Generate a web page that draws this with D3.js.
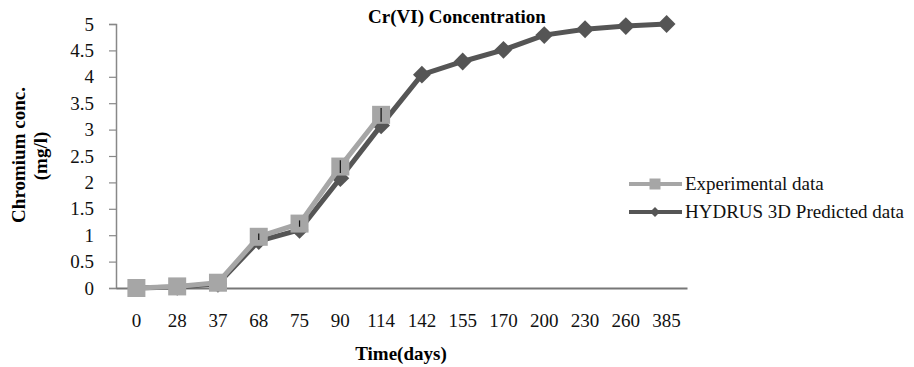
<!DOCTYPE html>
<html>
<head>
<meta charset="utf-8">
<script src="https://d3js.org/d3.v7.min.js"></script>
<style>
  body { margin: 0; background: #fff; }
  text { font-family: "Liberation Serif", "Times New Roman", serif; }
</style>
</head>
<body>
<div id="chart"></div>
<script>
// data
var days = ["0", "28", "37", "68", "75", "90", "114", "142", "155", "170", "200", "230", "260", "385"];
var experimental = [0, 0.03, 0.1, 0.97, 1.22, 2.3, 3.28];
var expError = [0, 0, 0, 0.06, 0.06, 0.12, 0.13];
var predicted = [0, 0.02, 0.08, 0.89, 1.1, 2.08, 3.08, 4.04, 4.29, 4.51, 4.79, 4.9, 4.96, 5.0];
var yTicks = [0, 0.5, 1, 1.5, 2, 2.5, 3, 3.5, 4, 4.5, 5];
var seriesNames = ["Experimental data", "HYDRUS 3D Predicted data"];

var width = 914, height = 367;
var svg = d3.select("#chart").append("svg")
  .attr("width", width)
  .attr("height", height);

var x = d3.scaleBand().domain(days).range([116, 687]);
var y = d3.scaleLinear().domain([0, 5]).range([288, 24]);
var cx = function(i) { return x(days[i]) + x.bandwidth() / 2; };

// y axis
var yAxis = svg.append("g")
  .attr("transform", "translate(116,0)")
  .call(d3.axisLeft(y).tickValues(yTicks).tickSize(7).tickPadding(15).tickFormat(d3.format("")));
yAxis.select(".domain").attr("stroke", "#888").attr("stroke-width", 1.5);
yAxis.selectAll(".tick line").attr("stroke", "#888").attr("stroke-width", 1.2);
yAxis.selectAll("text").attr("font-size", "19px").attr("fill", "#111")
  .style("font-family", "'Liberation Serif', serif");

// x axis
var xAxis = svg.append("g")
  .attr("transform", "translate(0,288)")
  .call(d3.axisBottom(x).tickSize(0).tickPadding(26));
xAxis.select(".domain").attr("stroke", "#777").attr("stroke-width", 2);
xAxis.selectAll("text").attr("font-size", "19px").attr("fill", "#111")
  .style("font-family", "'Liberation Serif', serif");

// predicted series
var line = d3.line().x(function(d, i) { return cx(i); }).y(function(d) { return y(d); });
svg.append("path").datum(predicted)
  .attr("fill", "none").attr("stroke", "#555").attr("stroke-width", 5)
  .attr("d", line);
svg.selectAll(".dia").data(predicted).enter().append("path")
  .attr("class", "dia")
  .attr("transform", function(d, i) { return "translate(" + cx(i) + "," + y(d) + ") rotate(45)"; })
  .attr("d", "M-6.3,-6.3H6.3V6.3H-6.3Z")
  .attr("fill", "#555");

// experimental series
svg.append("path").datum(experimental)
  .attr("fill", "none").attr("stroke", "#a6a6a6").attr("stroke-width", 5)
  .attr("d", line);
svg.selectAll(".sq").data(experimental).enter().append("rect")
  .attr("class", "sq")
  .attr("x", function(d, i) { return cx(i) - 9; })
  .attr("y", function(d) { return y(d) - 9; })
  .attr("width", 18).attr("height", 18)
  .attr("fill", "#a6a6a6");

// error bars
svg.selectAll(".err").data(experimental).enter().append("line")
  .attr("class", "err")
  .attr("x1", function(d, i) { return cx(i); })
  .attr("x2", function(d, i) { return cx(i); })
  .attr("y1", function(d, i) { return y(d + expError[i]); })
  .attr("y2", function(d, i) { return y(d - expError[i]); })
  .attr("stroke", "#111").attr("stroke-width", 1.2);

// title
svg.append("text")
  .attr("x", 457).attr("y", 23)
  .attr("text-anchor", "middle")
  .attr("font-size", "19px").attr("font-weight", "bold")
  .text("Cr(VI) Concentration");

// axis titles
svg.append("text")
  .attr("transform", "translate(25,155) rotate(-90)")
  .attr("text-anchor", "middle")
  .attr("font-size", "19px").attr("font-weight", "bold")
  .text("Chromium  conc.");
svg.append("text")
  .attr("transform", "translate(47,156) rotate(-90)")
  .attr("text-anchor", "middle")
  .attr("font-size", "19px").attr("font-weight", "bold")
  .text("(mg/l)");
svg.append("text")
  .attr("x", 401).attr("y", 360)
  .attr("text-anchor", "middle")
  .attr("font-size", "19px").attr("font-weight", "bold")
  .text("Time(days)");

// legend
var legend = svg.selectAll(".leg").data(seriesNames).enter().append("g")
  .attr("class", "leg")
  .attr("transform", function(d, i) { return "translate(629," + (184 + i * 28) + ")"; });
legend.append("line")
  .attr("x1", 0).attr("x2", 53).attr("y1", 0).attr("y2", 0)
  .attr("stroke", function(d, i) { return i ? "#555" : "#a6a6a6"; })
  .attr("stroke-width", 4);
legend.append("path")
  .attr("transform", function(d, i) { return i ? "translate(26,0) rotate(45)" : "translate(26,0)"; })
  .attr("d", function(d, i) { return i ? "M-3.5,-3.5H3.5V3.5H-3.5Z" : "M-5.5,-5.5H5.5V5.5H-5.5Z"; })
  .attr("fill", function(d, i) { return i ? "#555" : "#a6a6a6"; });
legend.append("text")
  .attr("x", 56).attr("y", 6)
  .attr("font-size", "19px").attr("fill", "#111")
  .text(function(d) { return d; });
</script>
</body>
</html>
